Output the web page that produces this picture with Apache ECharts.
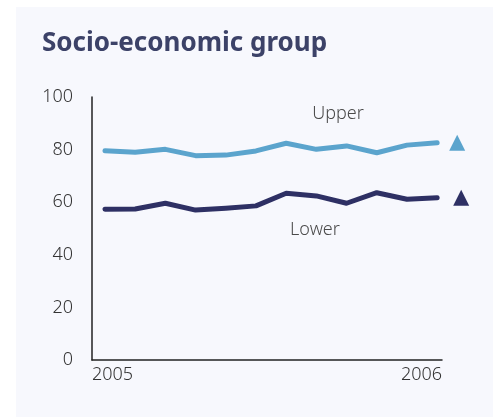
<!DOCTYPE html>
<html>
<head>
<meta charset="utf-8">
<script src="https://cdn.jsdelivr.net/npm/echarts@6/dist/echarts.min.js"></script>
<style>
  html, body { margin: 0; padding: 0; background: #ffffff; }
  #chart { width: 496px; height: 417px; }
</style>
</head>
<body>
<div id="chart"></div>
<script>
// twelve readings between 2005 and 2006
const periods = ['p1', 'p2', 'p3', 'p4', 'p5', 'p6', 'p7', 'p8', 'p9', 'p10', 'p11', 'p12'];
const upper = [79.6, 79.0, 80.1, 77.7, 77.9, 79.5, 82.4, 80.1, 81.4, 78.8, 81.7, 82.6];
const lower = [57.3, 57.4, 59.6, 57.0, 57.7, 58.6, 63.4, 62.4, 59.6, 63.6, 61.1, 61.7];
const yearLabels = ['2005', '2006'];
const yTicks = [0, 20, 40, 60, 80, 100];

const font = 'Noto Sans';
const upperColor = '#5ba4cd';
const lowerColor = '#2e3064';

const toPoints = (vals) => vals.map((v, i) => [i, v]);
const last = periods.length - 1;

const chart = echarts.init(document.getElementById('chart'));
chart.setOption({
  animation: false,
  backgroundColor: '#ffffff',
  graphic: [
    {
      type: 'rect',
      z: -10,
      shape: { x: 16, y: 7, width: 477, height: 420 },
      style: { fill: '#f7f8fd' }
    },
    {
      type: 'text',
      x: 338, y: 114,
      style: {
        text: 'Upper', font: '300 18px "Noto Sans"', fill: '#4a4a4a',
        align: 'center', verticalAlign: 'middle'
      }
    },
    {
      type: 'text',
      x: 315, y: 230,
      style: {
        text: 'Lower', font: '300 18px "Noto Sans"', fill: '#4a4a4a',
        align: 'center', verticalAlign: 'middle'
      }
    }
  ],
  title: {
    text: 'Socio-economic group',
    left: 37,
    top: 26,
    textStyle: { fontFamily: font, fontWeight: 'bold', fontSize: 26, color: '#3c4268' }
  },
  grid: { left: 92, right: 54, top: 97, bottom: 57 },
  xAxis: {
    type: 'value',
    min: -0.43,
    max: 11.16,
    splitLine: { show: false },
    axisTick: { show: false },
    axisLine: { lineStyle: { color: '#222', width: 1.5 } },
    axisLabel: {
      customValues: [-0.43, 11.16],
      alignMinLabel: 'left',
      alignMaxLabel: 'right',
      formatter: (v) => (v < 0 ? yearLabels[0] : yearLabels[1]),
      fontFamily: font, fontWeight: 300, fontSize: 18, color: '#333', margin: 6
    }
  },
  yAxis: {
    type: 'value',
    min: 0,
    max: 100,
    interval: 20,
    splitLine: { show: false },
    axisTick: { show: false },
    axisLine: { show: true, onZero: false, lineStyle: { color: '#222', width: 1.5 } },
    axisLabel: {
      customValues: yTicks,
      fontFamily: font, fontWeight: 300, fontSize: 18, color: '#333', margin: 19
    }
  },
  series: [
    {
      name: 'Upper',
      type: 'line',
      data: toPoints(upper),
      symbol: 'none',
      lineStyle: { color: upperColor, width: 5, cap: 'round', join: 'round' },
      markPoint: {
        symbol: 'triangle',
        symbolSize: 16,
        label: { show: false },
        itemStyle: { color: upperColor },
        data: [{ coord: [last, upper[last]], symbolOffset: [20, 0] }]
      }
    },
    {
      name: 'Lower',
      type: 'line',
      data: toPoints(lower),
      symbol: 'none',
      lineStyle: { color: lowerColor, width: 5, cap: 'round', join: 'round' },
      markPoint: {
        symbol: 'triangle',
        symbolSize: 16,
        label: { show: false },
        itemStyle: { color: lowerColor },
        data: [{ coord: [last, lower[last]], symbolOffset: [24, 0] }]
      }
    }
  ]
});
</script>
</body>
</html>
